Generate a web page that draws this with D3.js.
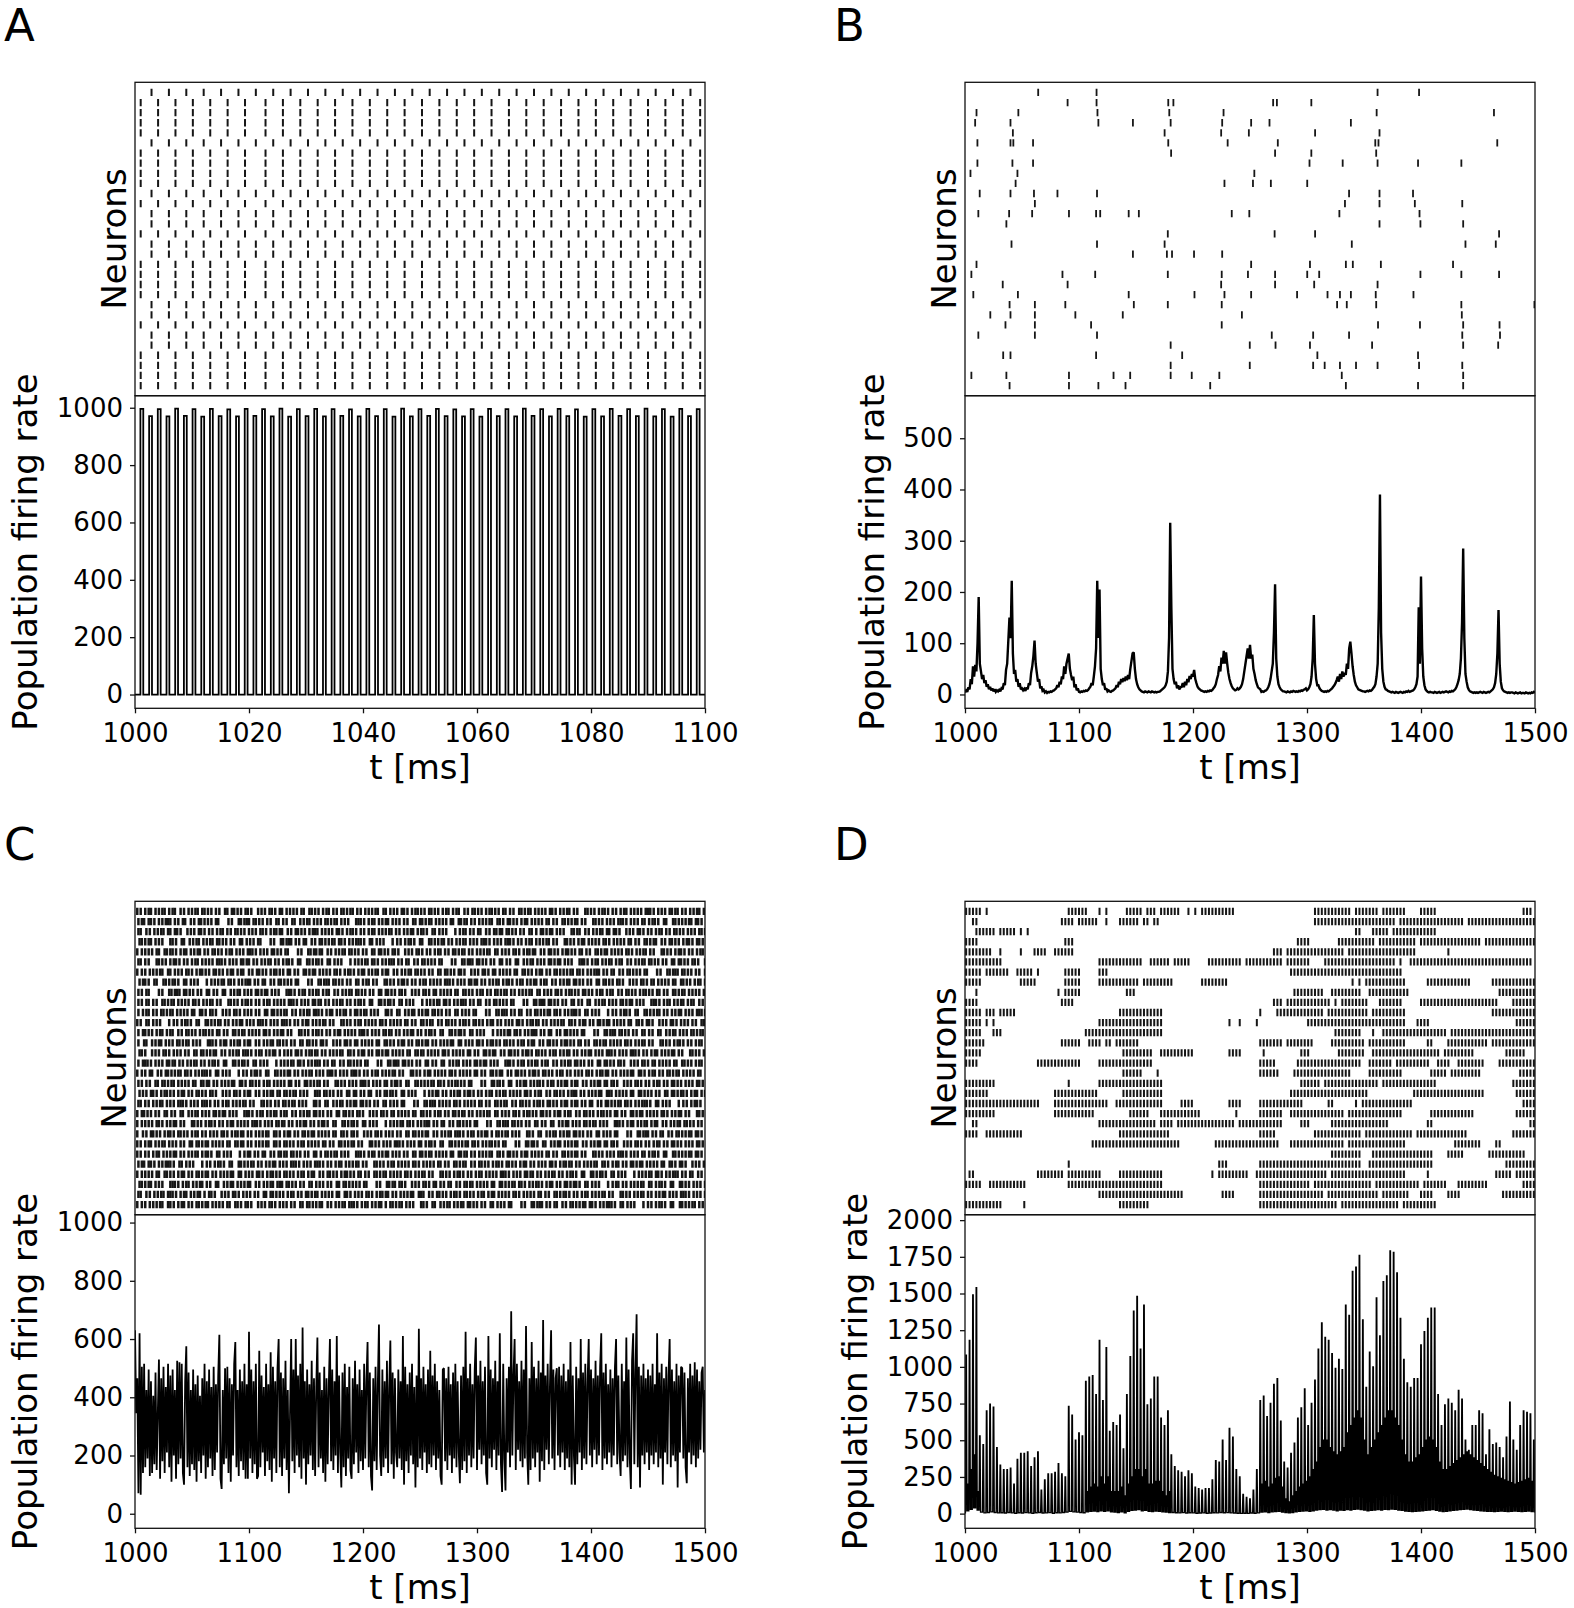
<!DOCTYPE html>
<html>
<head>
<meta charset="utf-8">
<script src="https://cdn.jsdelivr.net/npm/d3@7"></script>
<style>
html,body{margin:0;padding:0;background:#fff;}
svg{display:block;}
</style>
</head>
<body>
<svg id="fig" width="1574" height="1608"></svg>
<script>
// ======================= DATA =======================
const panelLetters = ["A", "B", "C", "D"];
const xLabel = "t [ms]";
const rasterLabel = "Neurons";
const rateLabel = "Population firing rate";

const xTicksA = [1000, 1020, 1040, 1060, 1080, 1100];
const xTicksBCD = [1000, 1100, 1200, 1300, 1400, 1500];
const yTicksA = [0, 200, 400, 600, 800, 1000];
const yTicksB = [0, 100, 200, 300, 400, 500];
const yTicksC = [0, 200, 400, 600, 800, 1000];
const yTicksD = [0, 250, 500, 750, 1000, 1250, 1500, 1750, 2000];

// ---- Panel A: two alternating synchronous clusters ----
const rasterA_even = [1001.0,1004.05,1007.1,1010.15,1013.2,1016.25,1019.3,1022.9,1025.95,1029.0,1032.05,1035.1,1038.15,1041.2,1044.25,1047.3,1050.35,1053.4,1056.45,1059.5,1062.55,1065.6,1068.65,1071.7,1074.75,1077.8,1080.85,1083.9,1086.95,1090.0,1093.05,1096.1,1099.15];
const rasterA_odd = [1002.9,1005.95,1009.0,1012.05,1015.1,1018.15,1021.2,1024.25,1027.3,1030.35,1033.4,1036.45,1039.5,1042.55,1045.6,1048.65,1051.7,1054.75,1057.8,1060.85,1063.9,1066.95,1070.0,1073.05,1076.1,1079.15,1082.2,1085.25,1088.3,1091.35,1094.4,1097.45];
const rasterA_rowGroup = ["o","e","e","e","e","o","e","e","e","e","o","e","o","o","e","o","o","e","e","e","e","o","o","e","o","o","e","e","e","e"];
const rateA_t = [1001.2,1002.73,1004.25,1005.78,1007.3,1008.83,1010.35,1011.88,1013.4,1014.93,1016.45,1017.98,1019.5,1021.03,1022.55,1024.08,1025.6,1027.13,1028.65,1030.18,1031.7,1033.23,1034.75,1036.28,1037.8,1039.33,1040.85,1042.38,1043.9,1045.43,1046.95,1048.48,1050.0,1051.53,1053.05,1054.58,1056.1,1057.63,1059.15,1060.68,1062.2,1063.73,1065.25,1066.78,1068.3,1069.83,1071.35,1072.88,1074.4,1075.93,1077.45,1078.98,1080.5,1082.03,1083.55,1085.08,1086.6,1088.13,1089.65,1091.18,1092.7,1094.23,1095.75,1097.28,1098.8];
const rateA_peak = [996,971,995,970,997,972,995,969,996,971,994,970,996,972,995,970,997,969,995,971,996,970,995,972,994,970,996,971,995,969,997,970,995,972,996,971,994,970,995,969,996,971,995,970,997,972,995,970,996,971,994,969,995,970,996,972,995,971,997,970,995,969,996,971,995];

// ---- Panel B: sparse raster (spike times per neuron, top to bottom) ----
const rasterB = [
 [1064.2,1115.4,1361.9,1398.3],
 [1090.0,1115.4,1178.3,1182.8,1270.3,1273.6,1303.8],
 [1010.1,1046.8,1116.2,1179.2,1226.8,1361.1,1464.0],
 [1008.9,1039.9,1117.0,1147.3,1180.4,1225.6,1251.0,1267.1,1338.5],
 [1042.0,1175.1,1224.7,1249.0,1307.1,1363.6],
 [1010.9,1039.9,1042.4,1059.7,1178.3,1230.4,1274.4,1359.9,1362.7,1466.9],
 [1180.8,1272.0,1303.8,1360.7],
 [1010.9,1041.6,1059.7,1302.2,1331.3,1361.9,1397.4,1435.4],
 [1004.8,1046.0,1253.8],
 [1044.4,1227.6,1252.6,1268.3,1300.2],
 [1012.9,1039.9,1060.5,1081.1,1115.8,1336.9,1363.6,1393.0],
 [1061.3,1333.3,1363.6,1394.6,1436.2],
 [1011.7,1038.7,1058.9,1091.2,1115.0,1118.6,1143.6,1152.5,1234.0,1249.4,1328.4,1398.7],
 [1036.3,1363.6,1399.5,1437.0],
 [1177.9,1271.6,1307.1,1468.5],
 [1040.8,1115.8,1175.1,1339.3,1439.0,1465.6],
 [1147.3,1177.1,1181.6,1200.9,1225.6],
 [1010.1,1251.0,1302.6,1334.1,1340.2,1364.8,1428.1],
 [1005.6,1085.5,1114.2,1177.9,1225.2,1248.2,1272.0,1300.2,1310.7,1399.5,1435.4,1468.5],
 [1033.1,1090.0,1224.7,1272.0,1306.3,1361.9],
 [1007.3,1046.4,1143.6,1201.3,1227.6,1251.0,1291.3,1318.0,1328.9,1338.5,1360.3,1393.4],
 [1039.1,1061.3,1088.0,1148.1,1177.9,1225.2,1326.4,1334.9,1360.7,1435.4,1499.5],
 [1022.2,1039.9,1061.3,1096.8,1138.4,1242.9,1435.8],
 [1035.5,1061.3,1110.6,1225.2,1362.3,1399.1,1437.0,1468.9],
 [1011.7,1061.3,1115.8,1269.1,1305.4,1336.9,1436.2,1469.3],
 [1180.4,1249.8,1272.4,1302.6,1357.1,1437.0,1467.7],
 [1033.5,1039.9,1115.0,1190.5,1309.1,1397.4],
 [1180.4,1249.8,1305.4,1315.5,1328.9,1343.0,1361.9,1398.3,1436.2],
 [1005.6,1036.3,1091.2,1130.3,1144.9,1180.4,1198.9,1223.1,1330.5,1437.0],
 [1039.1,1091.2,1117.0,1140.8,1215.1,1334.1,1397.4,1437.0]
];
// population rate B, one sample per ms starting at 1000 ms
const rateB_t0 = 1000, rateB_dt = 1;
const rateB = [
4,8,5,14,10,30,20,55,35,58,
45,100,190,60,45,30,38,22,28,15,
20,10,15,8,12,6,10,5,8,6,
9,6,12,10,22,18,48,60,105,150,
110,222,80,40,48,25,30,15,22,10,
12,8,11,7,14,10,22,18,42,55,
75,105,60,42,25,30,12,16,7,9,
4,6,3,5,4,6,5,7,8,10,
12,18,14,25,20,35,30,55,40,60,
70,80,50,38,28,35,14,20,8,12,
5,4,6,5,7,6,8,7,9,12,
15,22,18,35,55,90,222,110,205,50,
30,18,22,9,12,6,8,6,5,7,
8,10,12,18,14,25,20,30,24,32,
26,35,28,38,30,50,65,80,82,50,
30,20,14,10,8,6,5,4,6,5,
4,6,5,4,6,5,4,5,4,5,
5,6,8,10,12,14,18,25,45,110,
335,170,50,30,20,25,12,18,10,14,
15,22,14,25,18,30,24,36,30,40,
35,48,30,22,15,12,10,8,7,6,
5,6,5,7,6,8,7,9,12,15,
20,30,38,55,45,72,60,85,60,82,
60,42,30,22,16,12,10,8,9,12,
10,12,15,20,30,45,60,75,90,70,
97,70,78,50,40,28,20,14,12,10,
5,6,5,7,8,10,14,20,30,45,
60,120,215,70,35,20,14,10,8,6,
6,5,4,6,5,4,6,5,7,6,
5,6,5,7,6,8,7,9,10,12,
8,10,14,20,35,70,155,60,30,18,
18,12,9,7,6,5,6,5,7,6,
8,10,12,15,18,22,28,35,25,40,
30,45,35,42,38,60,50,90,103,80,
55,38,25,18,14,10,9,8,7,6,
6,5,6,7,6,8,7,9,12,15,
20,35,60,170,390,120,50,25,15,10,
9,7,6,5,4,5,4,3,5,4,
3,4,5,4,3,5,4,6,5,7,
5,6,7,8,10,14,20,35,170,60,
230,90,35,18,10,7,5,4,5,4,
4,3,5,4,3,4,5,3,4,5,
4,5,6,5,4,6,5,7,6,8,
10,14,20,28,40,70,140,285,110,40,
25,14,9,6,5,4,3,4,3,4,
3,4,5,4,3,5,4,3,4,5,
4,6,8,10,14,22,40,80,165,60,
25,12,8,6,5,4,3,4,3,4,
4,3,2,4,3,2,3,4,2,3,
3,2,4,3,2,3,2,4,3,5,
3];

// ---- Panel C: asynchronous irregular raster, inter-spike intervals (ms) per neuron ----
const rasterC_isi = [
"2343243324 3253433242 3343524233 4236334234 2433342523 3432434233 2434333252 4334234323 3423343243 2534233432 3342435233 2433342343 3243723343 2343432433 3422343342 3243433243 4323526233 2352433843",
"3324234332 2434253423 3342936232 2423343524 3525332433 4233243372 2343243324 3343524233 2433342523 2434333252 3423343243 3342435233 3243723343 3422343342 4323526233 3324234332 3342936232 3525332433",
"3253433242 4236334234 3432434233 4334234323 2534233432 2433342343 2343432433 3243433243 2352433843 2434253423 2423343524 4233243372 3253433242 4236334234 3432434233 4334234323 2534233432 2433342343",
"4233243372 3525332433 2423343524 3342936232 2434253423 3324234332 2352433843 4323526233 3243433243 3422343342 2343432433 3243723343 2433342343 3342435233 2534233432 3423343243 4334234323 2434333252",
"2433342523 2343243324 3423343243 3422343342 3342936232 3253433242 3343524233 4236334234 3432434233 2434333252 4334234323 2534233432 3342435233 2433342343 3243723343 2343432433 3243433243 4323526233",
"3243723343 2343432433 3422343342 3243433243 4323526233 2352433843 3324234332 2434253423 3342936232 2423343524 3525332433 4233243372 2343243324 3253433242 3343524233 4236334234 2433342523 3432434233",
"2434333252 4334234323 3423343243 2534233432 3342435233 2433342343 2343243324 3253433242 3343524233 4236334234 2433342523 3432434233 3324234332 2434253423 3342936232 2423343524 3525332433 4233243372",
"4323526233 2352433843 3324234332 2434253423 3342936232 2423343524 3243723343 2343432433 3422343342 3243433243 2343243324 3253433242 3343524233 4236334234 2433342523 3432434233 2434333252 4334234323",
"3342936232 2423343524 3525332433 4233243372 2343243324 3253433242 3343524233 4236334234 2433342523 3432434233 2434333252 4334234323 3423343243 2534233432 3342435233 2433342343 3243723343 2343432433",
"3342435233 2433342343 3243723343 2343432433 3422343342 3243433243 4323526233 2352433843 3324234332 2434253423 3342936232 2423343524 3525332433 4233243372 2343243324 3253433242 3343524233 4236334234",
"3432434233 2433342523 4236334234 3343524233 3253433242 2343243324 4233243372 3525332433 2423343524 3342936232 2434253423 3324234332 2352433843 4323526233 3243433243 3422343342 2343432433 3243723343",
"2352433843 4323526233 3243433243 3422343342 2343432433 3243723343 2433342343 3342435233 2534233432 3423343243 4334234323 2434333252 3432434233 2433342523 4236334234 3343524233 3253433242 2343243324",
"3423343243 2534233432 3342435233 2433342343 3243723343 2343432433 3422343342 3243433243 4323526233 2352433843 3324234332 2434253423 3342936232 2423343524 3525332433 4233243372 2343243324 3253433242",
"3525332433 4233243372 2343243324 3253433242 3343524233 4236334234 2433342523 3432434233 2434333252 4334234323 3423343243 2534233432 3342435233 2433342343 3243723343 2343432433 3422343342 3243433243",
"4236334234 3343524233 3253433242 2343243324 4334234323 2434333252 3432434233 2433342523 2433342343 3342435233 2534233432 3423343243 3243433243 3422343342 2343432433 3243723343 2434253423 3324234332",
"3422343342 3243433243 4323526233 2352433843 3324234332 2434253423 3342936232 2423343524 3525332433 4233243372 2343243324 3253433242 3343524233 4236334234 2433342523 3432434233 2434333252 4334234323",
"2434253423 3324234332 2352433843 4323526233 3243433243 3422343342 2343432433 3243723343 2433342343 3342435233 2534233432 3423343243 4334234323 2434333252 3432434233 2433342523 4236334234 3343524233",
"3343524233 2433342523 2434333252 3423343243 3342435233 3243723343 3422343342 4323526233 3324234332 3342936232 3525332433 2343243324 3253433242 4236334234 3432434233 4334234323 2534233432 2433342343",
"4334234323 3432434233 4236334234 3253433242 4233243372 2423343524 2434253423 2352433843 3243433243 2343432433 2433342343 2534233432 2434333252 2433342523 3343524233 2343243324 3324234332 3342936232",
"3243433243 3422343342 2343432433 3243723343 4233243372 3525332433 2423343524 3342936232 2433342343 3342435233 2534233432 3423343243 2434253423 3324234332 2352433843 4323526233 4334234323 2434333252",
"2423343524 3525332433 4233243372 2343243324 3253433242 3343524233 4236334234 2433342523 3432434233 2434333252 4334234323 3423343243 2534233432 3342435233 2433342343 3243723343 2343432433 3422343342",
"2433342343 3243723343 2343432433 3422343342 3243433243 4323526233 2352433843 3324234332 2434253423 3342936232 2423343524 3525332433 4233243372 2343243324 3253433242 3343524233 4236334234 2433342523",
"2534233432 3423343243 4334234323 2434333252 3432434233 2433342523 4236334234 3343524233 3253433242 2343243324 4233243372 3525332433 2423343524 3342936232 2434253423 3324234332 2352433843 4323526233",
"2343243324 3343524233 2433342523 2434333252 3423343243 3342435233 3243723343 3422343342 4323526233 3324234332 3342936232 3525332433 3253433242 4236334234 3432434233 4334234323 2534233432 2433342343",
"2343432433 3243433243 2352433843 2434253423 2423343524 4233243372 2343243324 3343524233 2433342523 2434333252 3423343243 3342435233 3243723343 3422343342 4323526233 3324234332 3342936232 3525332433",
"3324234332 2352433843 4323526233 3243433243 3422343342 2343432433 3243723343 2433342343 3342435233 2534233432 3423343243 4334234323 2434333252 3432434233 2433342523 4236334234 3343524233 3253433242",
"2433342523 3432434233 2434333252 4334234323 3423343243 2534233432 3342435233 2433342343 3243723343 2343432433 3422343342 3243433243 4323526233 2352433843 3324234332 2434253423 3342936232 2423343524",
"4233243372 2343243324 3525332433 3253433242 2423343524 3343524233 3342936232 4236334234 2434253423 2433342523 3324234332 3432434233 2352433843 2434333252 4323526233 4334234323 3243433243 3423343243",
"3253433242 2343243324 4236334234 3343524233 3432434233 2433342523 4334234323 2434333252 2534233432 3423343243 2433342343 3342435233 2343432433 3243723343 3243433243 3422343342 2352433843 4323526233",
"2434333252 3432434233 2433342523 4236334234 3343524233 3253433242 2343243324 4233243372 3525332433 2423343524 3342936232 2434253423 3324234332 2352433843 4323526233 3243433243 3422343342 2343432433"
];
// population rate C, one sample per ms starting at 1000 ms
const rateC_t0 = 1000, rateC_dt = 1;
const rateC = [
630,345,465,70,620,65,505,140,515,160,
425,190,495,130,455,140,405,170,485,150,
345,530,120,465,180,505,140,435,210,515,
160,475,110,495,200,425,120,525,170,520,
190,515,140,100,455,575,160,485,130,425,
170,495,150,445,110,475,180,405,140,465,
200,515,120,455,160,495,190,435,130,505,
150,445,210,475,615,120,85,425,170,500,
190,505,140,465,110,445,200,515,590,160,
425,130,495,180,455,150,515,120,445,120,
625,190,495,140,455,170,515,120,130,560,
160,475,210,435,130,515,180,445,150,555,
110,505,190,455,140,500,600,160,485,130,
465,190,525,150,425,70,345,600,180,495,
140,600,200,475,160,515,120,640,190,455,
100,495,170,445,200,525,150,465,130,435,
605,160,485,190,425,140,505,110,465,170,
445,600,180,495,150,455,200,610,140,475,
210,90,485,160,515,130,435,190,505,150,
120,465,170,525,210,445,140,495,180,425,
150,515,190,455,590,160,485,130,80,465,
180,505,150,445,650,200,130,495,160,455,
190,525,140,435,595,170,485,120,465,210,
160,495,190,455,150,610,100,505,180,445,
140,485,200,515,170,435,90,475,160,635,
190,465,150,505,210,445,140,495,170,560,
160,475,200,515,150,455,190,425,130,100,
495,500,180,465,150,505,200,445,140,485,
190,515,160,455,210,105,475,150,505,180,
625,140,465,200,515,160,445,190,495,605,
150,475,220,525,170,455,200,505,140,100,
610,190,495,160,465,220,525,150,455,200,
620,170,75,515,190,80,465,210,505,160,
695,200,475,600,150,515,220,455,180,525,
160,495,190,645,210,100,465,150,590,190,
505,160,465,210,525,110,485,180,665,150,
475,220,515,170,445,630,190,495,150,465,
500,200,505,160,475,210,515,150,455,190,
495,160,590,100,475,200,100,505,170,465,
210,600,150,485,190,515,170,455,600,200,
495,160,465,220,525,170,475,200,505,620,
150,485,190,515,170,445,210,495,160,465,
200,505,600,170,475,210,130,515,180,455,
200,605,160,495,190,85,525,620,170,485,
685,160,505,90,475,200,515,170,465,210,
495,150,475,200,515,170,445,210,620,160,
485,190,515,100,465,210,505,170,475,600,
160,495,200,455,180,515,90,475,210,505,
500,190,485,160,105,465,210,515,170,475,
200,520,160,495,190,455,220,485,505,210,
425];

// ---- Panel D: bursting; population pulses every ~3 ms ----
const rateD_t = [
1001,1004,1007,1010,1013,1016,1019,1022,1025,1028,
1031,1034,1037,1040,1043,1046,1049,1052,1055,1058,
1061,1064,1067,1070,1073,1076,1079,1082,1085,1088,
1091,1094,1097,1100,1103,1106,1109,1112,1115,1118,
1121,1124,1127,1130,1133,1136,1139,1142,1145,1148,
1151,1154,1157,1160,1163,1166,1169,1172,1175,1178,
1181,1184,1187,1190,1193,1196,1199,1202,1205,1208,
1211,1214,1217,1220,1223,1226,1229,1232,1235,1238,
1241,1244,1247,1250,1253,1256,1259,1262,1265,1268,
1271,1274,1277,1280,1283,1286,1289,1292,1295,1298,
1301,1304,1307,1310,1313,1316,1319,1322,1325,1328,
1331,1334,1337,1340,1343,1346,1349,1352,1355,1358,
1361,1364,1367,1370,1373,1376,1379,1382,1385,1388,
1391,1394,1397,1400,1403,1406,1409,1412,1415,1418,
1421,1424,1427,1430,1433,1436,1439,1442,1445,1448,
1451,1454,1457,1460,1463,1466,1469,1472,1475,1478,
1481,1484,1487,1490,1493,1496,1499];
const rateD_peak = [
1080,1180,1490,1540,530,470,700,745,725,450,
330,300,300,310,200,370,410,410,420,320,
380,420,160,230,270,270,280,340,270,250,
730,670,500,550,530,900,930,940,810,1180,
770,1130,560,620,600,670,440,810,1070,1380,
1480,1120,1420,740,780,930,930,650,600,700,
400,320,290,280,250,290,270,180,170,160,
170,170,230,360,350,500,360,580,520,300,
250,130,110,100,160,300,770,800,660,750,
880,920,630,350,310,410,480,650,720,850,
600,750,910,1120,1300,1200,1180,1090,990,1050,
980,1420,1350,1650,1680,1760,1320,860,1100,1000,
1470,1210,1580,1620,1790,1780,1640,1330,1050,890,
860,920,920,1150,1240,1330,1400,1400,810,600,
740,780,750,700,840,780,500,430,600,600,
700,680,400,570,470,480,450,380,520,760,
500,430,600,700,690,680,500];
// secondary (smaller) pulse heights between the main pulses
const rateD_mid = [
200,300,400,150,0,0,0,0,0,0,
0,0,0,0,0,0,0,0,0,0,
0,0,0,0,0,0,0,0,0,0,
0,0,0,0,0,150,180,200,180,250,
200,250,150,150,150,180,120,200,250,300,
300,250,300,200,200,220,220,150,120,150,
0,0,0,0,0,0,0,0,0,0,
0,0,0,0,0,0,0,0,0,0,
0,0,0,0,0,0,200,220,180,200,
240,250,180,100,80,120,150,180,200,220,
250,300,350,450,500,500,450,420,400,420,
450,550,600,650,700,650,500,400,450,500,
550,600,650,700,700,650,600,500,400,350,
350,380,400,450,500,520,500,450,350,300,
300,320,340,360,380,400,420,400,380,360,
340,320,300,280,260,250,240,230,220,210,
200,210,220,230,240,220,200];
const rateD_trough = [
20,30,40,25,10,5,8,12,8,5,
6,4,8,5,3,6,4,7,5,3,
6,8,4,5,7,3,6,5,8,10,
15,12,10,8,6,12,15,18,14,20,
16,20,12,10,8,12,6,15,22,25,
28,20,22,15,14,18,16,12,10,8,
8,6,5,7,4,6,5,3,4,5,
3,4,6,5,8,6,7,5,4,3,
2,3,2,4,3,5,10,12,8,12,
14,15,10,8,6,8,12,15,18,20,
15,20,25,28,30,25,28,24,20,25,
22,28,25,30,32,28,25,20,22,25,
28,25,30,28,32,30,25,22,18,15,
14,15,18,20,22,25,28,22,18,14,
15,20,22,25,28,30,32,28,25,22,
20,18,16,15,14,16,18,15,14,16,
18,16,14,15,18,14,12];
// raster D: bursts as runs of consecutive pulse indices [first, last] per neuron
const rasterD_runs = [
 [[0,4],[6,6],[30,35],[39,39],[41,41],[47,51],[53,54],[55,55],[57,62],[65,65],[67,67],[69,78],[102,112],[114,120],[122,128],[133,137],[163,165]],
 [[2,3],[28,31],[33,35],[36,38],[41,41],[45,50],[52,53],[55,56],[102,125],[127,145],[147,166]],
 [[3,8],[10,14],[16,16],[18,18],[114,115],[119,123],[125,137]],
 [[0,3],[29,31],[97,100],[109,119],[121,131],[133,150],[152,166]],
 [[0,7],[10,10],[16,16],[20,23],[26,31],[90,92],[94,110],[112,131],[141,141]],
 [[0,10],[39,51],[54,59],[61,65],[71,80],[82,92],[94,100],[105,125],[127,127],[130,165]],
 [[0,4],[6,12],[15,19],[21,21],[29,33],[39,41],[95,127]],
 [[0,4],[16,20],[29,33],[39,50],[52,60],[69,76],[113,113],[115,115],[117,128],[135,147],[154,166]],
 [[3,3],[27,27],[29,33],[47,49],[96,104],[107,115],[118,129],[156,166]],
 [[0,3],[28,31],[90,92],[94,106],[108,108],[110,117],[121,127],[133,155],[160,166]],
 [[0,4],[6,8],[10,14],[45,57],[86,86],[91,104],[106,117],[119,128],[154,166]],
 [[0,4],[6,6],[8,8],[39,57],[77,77],[80,80],[85,85],[100,128],[132,135],[161,166]],
 [[0,4],[8,10],[35,57],[108,115],[119,119],[122,140],[142,166]],
 [[0,5],[28,33],[36,39],[41,42],[44,50],[86,92],[94,101],[107,116],[118,128],[135,136],[141,152],[154,166]],
 [[0,4],[46,54],[57,66],[77,80],[87,87],[98,100],[109,116],[119,138],[140,148],[158,163]],
 [[0,3],[21,33],[39,54],[86,90],[97,115],[118,124],[126,135],[138,141],[144,151],[156,166]],
 [[46,51],[56,56],[86,91],[96,112],[118,127],[136,140],[142,150],[162,166]],
 [[0,8],[30,30],[39,57],[98,103],[105,120],[122,137],[160,166]],
 [[0,6],[26,38],[46,57],[95,117],[131,151],[161,166]],
 [[0,21],[26,41],[44,57],[63,66],[77,80],[86,98],[106,107],[114,114],[116,130],[163,166]],
 [[0,8],[26,37],[48,53],[57,68],[79,79],[86,92],[95,110],[112,127],[136,148],[161,166]],
 [[2,3],[39,55],[57,60],[62,78],[80,92],[98,100],[107,123],[135,136],[165,166]],
 [[0,3],[6,16],[45,59],[86,90],[102,115],[117,130],[132,146],[160,166]],
 [[37,62],[73,91],[95,110],[112,128],[143,150],[155,156]],
 [[107,115],[119,136],[141,145],[153,163]],
 [[30,30],[74,76],[86,115],[118,136],[158,166]],
 [[1,2],[21,28],[30,39],[45,57],[72,72],[74,82],[85,105],[107,128],[135,135],[155,159],[161,166]],
 [[0,4],[7,17],[30,57],[86,100],[102,118],[120,132],[134,140],[144,152],[163,166]],
 [[39,63],[75,78],[86,104],[106,120],[122,129],[133,136],[141,144],[157,166]],
 [[0,10],[17,17],[45,53],[86,108],[110,126],[128,137]]
];

// ======================= DRAWING =======================
const FONT = '"DejaVu Sans", "Liberation Sans", sans-serif';
const svg = d3.select("#fig");
const defs = svg.append("defs");

const geom = {
  A: {left: 135, right: 705, top: 82.3, mid: 395.7, bottom: 708.3},
  B: {left: 965, right: 1535, top: 82.3, mid: 395.7, bottom: 708.3},
  C: {left: 135, right: 705, top: 901.3, mid: 1214.7, bottom: 1528.3},
  D: {left: 965, right: 1535, top: 901.3, mid: 1214.7, bottom: 1528.3}
};

function drawPanel(letter, opt) {
  const G = geom[letter];
  const g = svg.append("g");
  const x = d3.scaleLinear().domain(opt.xDomain).range([G.left, G.right]);
  const yR = d3.scaleLinear().domain([-1, 30]).range([G.top, G.mid]);
  const y = d3.scaleLinear().domain(opt.yDomain).range([G.bottom, G.mid]);

  defs.append("clipPath").attr("id", "cr" + letter).append("rect")
    .attr("x", G.left).attr("y", G.top).attr("width", G.right - G.left).attr("height", G.mid - G.top);
  defs.append("clipPath").attr("id", "cp" + letter).append("rect")
    .attr("x", G.left).attr("y", G.mid).attr("width", G.right - G.left).attr("height", G.bottom - G.mid);

  // raster
  const half = (yR(1) - yR(0)) * 0.36;
  const ev = [];
  opt.raster.forEach((row, r) => row.forEach(t => ev.push([t, r])));
  g.append("g").attr("clip-path", `url(#cr${letter})`)
    .selectAll("line").data(ev).join("line")
    .attr("x1", d => x(d[0])).attr("x2", d => x(d[0]))
    .attr("y1", d => yR(d[1]) - half).attr("y2", d => yR(d[1]) + half)
    .attr("stroke", "#161616").attr("stroke-width", opt.tickW);

  // rate
  g.append("path").attr("clip-path", `url(#cp${letter})`)
    .attr("d", d3.line().x(d => x(d[0])).y(d => y(d[1]))(opt.ratePts))
    .attr("fill", "none").attr("stroke", "#000").attr("stroke-width", opt.lw)
    .attr("stroke-linejoin", "miter").attr("stroke-miterlimit", 2);

  // spines
  g.append("rect").attr("x", G.left).attr("y", G.top).attr("width", G.right - G.left).attr("height", G.mid - G.top)
    .attr("fill", "none").attr("stroke", "#111").attr("stroke-width", 1.3);
  g.append("rect").attr("x", G.left).attr("y", G.mid).attr("width", G.right - G.left).attr("height", G.bottom - G.mid)
    .attr("fill", "none").attr("stroke", "#111").attr("stroke-width", 1.3);

  // axes
  const ax = g.append("g").attr("transform", `translate(0,${G.bottom})`)
    .call(d3.axisBottom(x).tickValues(opt.xTicks).tickFormat(d3.format("d")).tickSize(5).tickPadding(10));
  const ay = g.append("g").attr("transform", `translate(${G.left},0)`)
    .call(d3.axisLeft(y).tickValues(opt.yTicks).tickFormat(d3.format("d")).tickSize(5).tickPadding(7));
  [ax, ay].forEach(a => {
    a.select(".domain").remove();
    a.selectAll("text").attr("font-family", FONT).attr("font-size", 26).attr("fill", "#000");
    a.selectAll("line").attr("stroke", "#111").attr("stroke-width", 1.3);
  });
  let maxW = 0;
  ay.selectAll("text").each(function () { maxW = Math.max(maxW, this.getComputedTextLength()); });

  // labels
  g.append("text").attr("x", (G.left + G.right) / 2).attr("y", G.bottom + 71)
    .attr("text-anchor", "middle").attr("font-family", FONT).attr("font-size", 34).text(xLabel);
  g.append("text").attr("transform", `translate(${G.left - 12 - maxW - 19.5},${(G.mid + G.bottom) / 2}) rotate(-90)`)
    .attr("text-anchor", "middle").attr("font-family", FONT).attr("font-size", 34).text(rateLabel);
  g.append("text").attr("transform", `translate(${G.left - 9},${(G.top + G.mid) / 2}) rotate(-90)`)
    .attr("text-anchor", "middle").attr("font-family", FONT).attr("font-size", 34).text(rasterLabel);
  g.append("text").attr("x", G.left - 131).attr("y", G.top - 41)
    .attr("font-family", FONT).attr("font-size", 45).text(letter);
}

// ---- build panel A ----
const rasterA = rasterA_rowGroup.map(gp => gp === "e" ? rasterA_even : rasterA_odd);
const hwA = 0.25;
const ptsA = [[1000, 0]];
rateA_t.forEach((t, i) => {
  const h = rateA_peak[i];
  ptsA.push([t - hwA, 0], [t - hwA, h], [t + hwA, h], [t + hwA, 0]);
});
ptsA.push([1100, 0]);

// ---- panel B/C points ----
const ptsB = rateB.map((v, i) => [rateB_t0 + i * rateB_dt, v]);
const ptsC = rateC.map((v, i) => [rateC_t0 + i * rateC_dt, v]);

// ---- raster C from ISI strings ----
const rasterC = rasterC_isi.map(s => {
  const out = []; let t = 1000;
  for (const ch of s) {
    if (ch >= "0" && ch <= "9") { t += +ch; if (t > 1501) break; out.push(t); }
  }
  return out;
});

// ---- panel D ----
const rasterD = rasterD_runs.map(runs => {
  const out = [];
  runs.forEach(([a, b]) => { for (let i = a; i <= b; i++) out.push(rateD_t[i]); });
  return out;
});
const ptsD = [[1000, 5]];
rateD_t.forEach((t, i) => {
  const prev = i > 0 ? rateD_trough[i - 1] : 5;
  const tr = rateD_trough[i];
  ptsD.push([t - 0.65, prev], [t - 0.2, rateD_peak[i]], [t + 0.2, rateD_peak[i]], [t + 0.65, tr]);
  if (rateD_mid[i] > 0) {
    const tm = t + 1.5;
    ptsD.push([tm - 0.5, tr], [tm - 0.12, rateD_mid[i]], [tm + 0.12, rateD_mid[i]], [tm + 0.5, tr]);
  }
});
ptsD.push([1500, rateD_trough[rateD_trough.length - 1]]);

drawPanel("A", {xDomain: [1000, 1100], yDomain: [-48, 1042], xTicks: xTicksA, yTicks: yTicksA,
  raster: rasterA, ratePts: ptsA, lw: 1.8, tickW: 2});
drawPanel("B", {xDomain: [1000, 1500], yDomain: [-27, 583], xTicks: xTicksBCD, yTicks: yTicksB,
  raster: rasterB, ratePts: ptsB, lw: 2.4, tickW: 1.8});
drawPanel("C", {xDomain: [1000, 1500], yDomain: [-50, 1027], xTicks: xTicksBCD, yTicks: yTicksC,
  raster: rasterC, ratePts: ptsC, lw: 1.8, tickW: 2.5});
drawPanel("D", {xDomain: [1000, 1500], yDomain: [-100, 2037], xTicks: xTicksBCD, yTicks: yTicksD,
  raster: rasterD, ratePts: ptsD, lw: 1.4, tickW: 2});
</script>
</body>
</html>
